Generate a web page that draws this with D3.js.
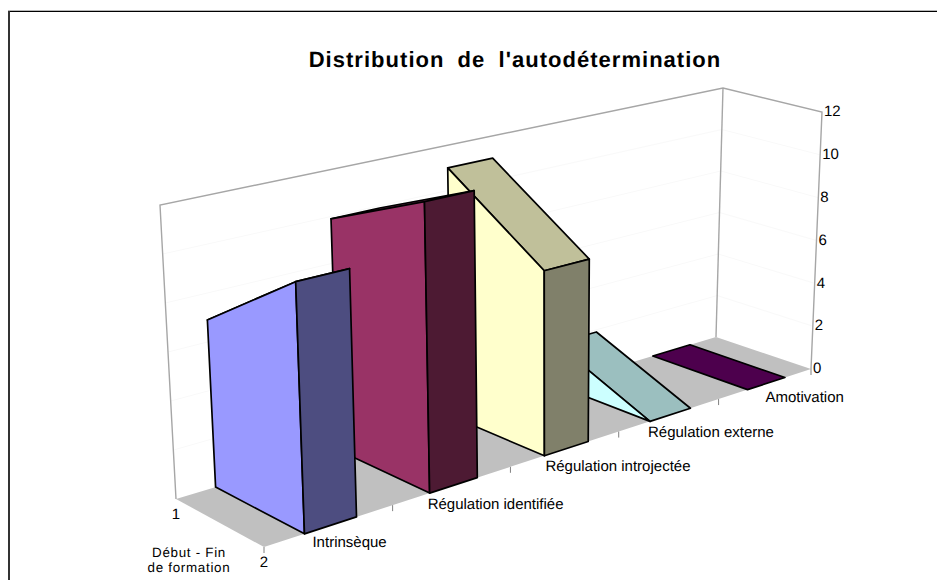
<!DOCTYPE html>
<html>
<head>
<meta charset="utf-8">
<script src="https://d3js.org/d3.v7.min.js"></script>
<style>
html, body { margin: 0; padding: 0; background: #fff; }
svg { display: block; }
text { font-family: "Liberation Sans", Arial, sans-serif; fill: #000; text-rendering: geometricPrecision; }
</style>
</head>
<body>
<svg width="937" height="580"></svg>
<script>
// values
var categories = ["Intrinsèque", "Régulation identifiée", "Régulation introjectée", "Régulation externe", "Amotivation"];
var debut = [6.9, 9.9, 11, 1.9, 0];
var fin = [10, 12, 7.9, 0, 0];
var valueTicks = [0, 2, 4, 6, 8, 10, 12];
var depthLabels = ["1", "2"];
var titleText = "Distribution de l'autodétermination";
var depthTitle = ["Début - Fin", "de formation"];

// ribbon colours: side, top, front cap
var sideColors = ["#9999ff", "#993366", "#ffffcc", "#ccffff", "#660066"];
var topColors = ["#7373bf", "#732650", "#c0c09a", "#9bbfbf", "#4d004d"];
var capColors = ["#4d4d80", "#4d1a33", "#80806a", "#668080", "#330033"];

var svg = d3.select("svg");

// corners of the box as drawn: back-left, back-right, front-right, front-left
var floorCorners = [[176, 499], [716, 337], [811, 369], [264, 547]];
var topCorners = [[160, 205], [723, 88], [822, 112], [251.7, 240.8]];

// maps the unit square on a quad
function homography(p) {
    var dx1 = p[1][0] - p[2][0], dx2 = p[3][0] - p[2][0], sx = p[0][0] - p[1][0] + p[2][0] - p[3][0],
        dy1 = p[1][1] - p[2][1], dy2 = p[3][1] - p[2][1], sy = p[0][1] - p[1][1] + p[2][1] - p[3][1],
        den = dx1 * dy2 - dx2 * dy1,
        g = (sx * dy2 - dx2 * sy) / den,
        h = (dx1 * sy - sx * dy1) / den,
        a = p[1][0] - p[0][0] + g * p[1][0],
        b = p[3][0] - p[0][0] + h * p[3][0],
        d = p[1][1] - p[0][1] + g * p[1][1],
        e = p[3][1] - p[0][1] + h * p[3][1];
    return function(u, s) {
        var w = g * u + h * s + 1;
        return [(a * u + b * s + p[0][0]) / w, (d * u + e * s + p[0][1]) / w];
    };
}

var floorMap = homography(floorCorners),
    topMap = homography(topCorners);

var xScale = d3.scaleLinear().domain([0, categories.length]).range([0, 1]),
    zScale = d3.scaleLinear().domain([0, depthLabels.length - 1]).range([0, 1]),
    yScale = d3.scaleLinear().domain([0, 12]).range([0, 1]);

// category position, depth index, value -> screen
function project(c, z, v) {
    var u = xScale(c), s = zScale(z), t = yScale(v);
    var a = floorMap(u, s), b = topMap(u, s);
    return [a[0] + (b[0] - a[0]) * t, a[1] + (b[1] - a[1]) * t];
}

var poly = d3.line();

function face(pts, fill, stroke, width) {
    svg.append("path")
       .attr("d", poly(pts) + "Z")
       .attr("fill", fill)
       .attr("stroke", stroke || "none")
       .attr("stroke-width", width || 0)
       .attr("stroke-linejoin", "round");
}

// border
svg.append("line").attr("x1", 8).attr("x2", 937).attr("y1", 10.5).attr("y2", 10.5).attr("stroke", "#b8b8b8");
svg.append("line").attr("x1", 8).attr("x2", 937).attr("y1", 11.5).attr("y2", 11.5).attr("stroke", "#000");
svg.append("line").attr("x1", 9).attr("x2", 9).attr("y1", 11).attr("y2", 580).attr("stroke", "#333").attr("stroke-width", 2);

// title
svg.append("text")
   .attr("x", 515).attr("y", 67)
   .attr("text-anchor", "middle")
   .attr("font-size", 22).attr("font-weight", "bold")
   .attr("letter-spacing", 1.03).attr("word-spacing", 6)
   .text(titleText);

// floor
face([project(0, 0, 0), project(5, 0, 0), project(5, 1, 0), project(0, 1, 0)], "#c0c0c0");

// faint gridlines on the walls
valueTicks.slice(1, -1).forEach(function(v) {
    svg.append("path")
       .attr("d", poly([project(0, 0, v), project(5, 0, v), project(5, 1, v)]))
       .attr("fill", "none").attr("stroke", "#f9f9f9");
});

// wall frame
svg.append("path")
   .attr("d", poly([project(0, 0, 0), project(0, 0, 12), project(5, 0, 12), project(5, 1, 12), project(5, 1, 0)]))
   .attr("fill", "none").attr("stroke", "#a6a6a6").attr("stroke-width", 1.4);
svg.append("path")
   .attr("d", poly([project(5, 0, 12), project(5, 0, 0)]))
   .attr("fill", "none").attr("stroke", "#a6a6a6").attr("stroke-width", 1.4);

// ticks along the front edge and the depth edge
d3.range(1, categories.length + 1).forEach(function(c) {
    var p = project(c, 1, 0);
    svg.append("line").attr("x1", p[0]).attr("x2", p[0]).attr("y1", p[1]).attr("y2", p[1] + 6).attr("stroke", "#808080");
});
var p2 = project(0, 1, 0);
svg.append("line").attr("x1", p2[0]).attr("x2", p2[0]).attr("y1", p2[1]).attr("y2", p2[1] + 6).attr("stroke", "#808080");

// ribbons, back one first so the nearer ones cover it
var bandStart = 0.305, bandEnd = 0.71;
d3.range(categories.length - 1, -1, -1).forEach(function(i) {
    var c0 = i + bandStart, c1 = i + bandEnd;
    var a = debut[i], b = fin[i];
    face([project(c0, 0, a), project(c1, 0, a), project(c1, 1, b), project(c0, 1, b)], topColors[i], "#000", 1.7);
    if (a > 0 || b > 0) {
        face([project(c0, 0, 0), project(c0, 0, a), project(c0, 1, b), project(c0, 1, 0)], sideColors[i], "#000", 1.7);
    }
    if (b > 0) {
        face([project(c0, 1, 0), project(c0, 1, b), project(c1, 1, b), project(c1, 1, 0)], capColors[i], "#000", 1.7);
    }
});

// labels
var labelFont = 15;
var labelOffset = [[8, 8], [-2, 11], [1, 10], [-2, 10], [18, 7]];
categories.forEach(function(name, i) {
    var p = project(i + bandStart, 1, 0);
    svg.append("text")
       .attr("x", p[0] + labelOffset[i][0]).attr("y", p[1] + labelOffset[i][1])
       .attr("dy", "0.35em").attr("font-size", labelFont)
       .text(name);
});
valueTicks.forEach(function(v) {
    var p = project(5, 1, v);
    svg.append("text")
       .attr("x", p[0] + 2).attr("y", p[1] - 1)
       .attr("dy", "0.35em").attr("font-size", labelFont)
       .text(v);
});
depthLabels.forEach(function(d, i) {
    var p = project(0, i, 0);
    svg.append("text")
       .attr("x", p[0]).attr("y", p[1] + 15)
       .attr("dy", "0.35em").attr("text-anchor", "middle").attr("font-size", labelFont)
       .text(d);
});
depthTitle.forEach(function(t, i) {
    svg.append("text")
       .attr("x", 189).attr("y", 552 + i * 15.5)
       .attr("dy", "0.35em").attr("text-anchor", "middle")
       .attr("font-size", 13.4).attr("letter-spacing", 0.7)
       .text(t);
});
</script>
</body>
</html>
